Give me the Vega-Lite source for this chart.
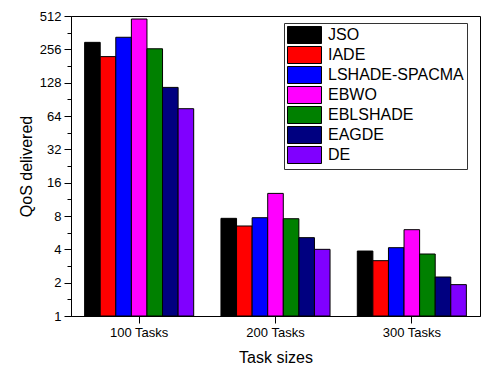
{
  "$schema": "https://vega.github.io/schema/vega-lite/v6.json",
  "width": 409,
  "height": 300,
  "autosize": {"type": "none"},
  "padding": {"left": 71, "top": 16, "right": 1, "bottom": 49},
  "background": "white",
  "config": {
    "font": "Liberation Sans",
    "view": {"stroke": "black", "strokeWidth": 1}
  },
  "data": {
    "values": [
      {"task": "100 Tasks", "algo": "JSO", "qos": 296},
      {"task": "100 Tasks", "algo": "IADE", "qos": 220},
      {"task": "100 Tasks", "algo": "LSHADE-SPACMA", "qos": 329},
      {"task": "100 Tasks", "algo": "EBWO", "qos": 481},
      {"task": "100 Tasks", "algo": "EBLSHADE", "qos": 259},
      {"task": "100 Tasks", "algo": "EAGDE", "qos": 116},
      {"task": "100 Tasks", "algo": "DE", "qos": 74.5},
      {"task": "200 Tasks", "algo": "JSO", "qos": 7.62},
      {"task": "200 Tasks", "algo": "IADE", "qos": 6.5},
      {"task": "200 Tasks", "algo": "LSHADE-SPACMA", "qos": 7.72},
      {"task": "200 Tasks", "algo": "EBWO", "qos": 12.8},
      {"task": "200 Tasks", "algo": "EBLSHADE", "qos": 7.56},
      {"task": "200 Tasks", "algo": "EAGDE", "qos": 5.1},
      {"task": "200 Tasks", "algo": "DE", "qos": 4.0},
      {"task": "300 Tasks", "algo": "JSO", "qos": 3.86},
      {"task": "300 Tasks", "algo": "IADE", "qos": 3.16},
      {"task": "300 Tasks", "algo": "LSHADE-SPACMA", "qos": 4.14},
      {"task": "300 Tasks", "algo": "EBWO", "qos": 6.02},
      {"task": "300 Tasks", "algo": "EBLSHADE", "qos": 3.63},
      {"task": "300 Tasks", "algo": "EAGDE", "qos": 2.25},
      {"task": "300 Tasks", "algo": "DE", "qos": 1.92}
    ]
  },
  "mark": {"type": "bar", "stroke": "black", "strokeWidth": 1},
  "encoding": {
    "x": {
      "field": "task",
      "type": "nominal",
      "sort": ["100 Tasks", "200 Tasks", "300 Tasks"],
      "scale": {"paddingInner": 0.2, "paddingOuter": 0.1},
      "axis": {
        "title": "Task sizes",
        "titleFontSize": 16,
        "titleFontWeight": "normal",
        "titleColor": "black",
        "titlePadding": 10,
        "labelAngle": 0,
        "labelFontSize": 13,
        "labelColor": "black",
        "labelPadding": 3,
        "tickSize": 7,
        "tickColor": "black",
        "domainColor": "black",
        "grid": false
      }
    },
    "xOffset": {
      "field": "algo",
      "type": "nominal",
      "sort": ["JSO", "IADE", "LSHADE-SPACMA", "EBWO", "EBLSHADE", "EAGDE", "DE"],
      "scale": {"paddingInner": 0, "paddingOuter": 0}
    },
    "y": {
      "field": "qos",
      "type": "quantitative",
      "scale": {"type": "log", "base": 2, "domain": [1, 512], "nice": false},
      "axis": {
        "title": "QoS delivered",
        "titleFontSize": 16,
        "titleFontWeight": "normal",
        "titleColor": "black",
        "titlePadding": 5,
        "values": [1, 1.41421356, 2, 2.82842712, 4, 5.65685425, 8, 11.3137085, 16, 22.627417, 32, 45.254834, 64, 90.5096680, 128, 181.019336, 256, 362.038672, 512],
        "labelExpr": "indexof([1,2,4,8,16,32,64,128,256,512], datum.value) >= 0 ? datum.value : ''",
        "labelFontSize": 13,
        "labelColor": "black",
        "labelPadding": 3,
        "tickSize": {"condition": {"test": "indexof([1,2,4,8,16,32,64,128,256,512], datum.value) >= 0", "value": 7}, "value": 4},
        "tickColor": "black",
        "domainColor": "black",
        "grid": false
      }
    },
    "y2": {"datum": 1},
    "color": {
      "field": "algo",
      "type": "nominal",
      "sort": ["JSO", "IADE", "LSHADE-SPACMA", "EBWO", "EBLSHADE", "EAGDE", "DE"],
      "scale": {
        "domain": ["JSO", "IADE", "LSHADE-SPACMA", "EBWO", "EBLSHADE", "EAGDE", "DE"],
        "range": ["#000000", "#FF0000", "#0000FF", "#FF00FF", "#008000", "#000080", "#8000FF"]
      },
      "legend": {
        "title": null,
        "orient": "none",
        "legendX": 213,
        "legendY": 7,
        "padding": 3,
        "strokeColor": "#333333",
        "fillColor": "white",
        "symbolType": "M-1,-1H3V1H-1Z",
        "symbolSize": 289,
        "symbolStrokeColor": "black",
        "symbolStrokeWidth": 1,
        "symbolOpacity": 1,
        "labelFontSize": 16,
        "labelColor": "black",
        "labelOffset": 23,
        "labelLimit": 300,
        "rowPadding": -2
      }
    }
  }
}
